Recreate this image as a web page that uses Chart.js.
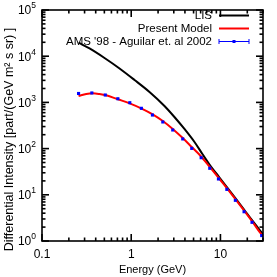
<!DOCTYPE html>
<html>
<head>
<meta charset="utf-8">
<script src="https://cdn.jsdelivr.net/npm/chart.js@4.4.1/dist/chart.umd.min.js"></script>
<style>
  body { margin: 0; background: #fff; }
  #wrap { width: 277px; height: 277px; }
</style>
</head>
<body>
<div id="wrap"><canvas id="myChart"></canvas></div>
<script>
//Values (energy in GeV, intensity in part/(GeV m2 s sr))
const amsEnergy = [0.257, 0.362, 0.512, 0.708, 0.964, 1.30, 1.73, 2.26, 2.92, 3.78, 4.77, 6.08, 7.59, 9.5, 11.8, 14.7, 18.4, 22.6, 29.0];
const amsFlux = [1560, 1600, 1445, 1200, 985, 745, 533, 377, 253, 162, 101, 63.5, 37.5, 22, 13.1, 7.6, 4.3, 2.54, 1.31];

const modelEnergy = [0.257, 0.313, 0.371, 0.441, 0.525, 0.708, 0.96, 1.29, 1.74, 2.26, 2.92, 3.78, 4.77, 6.08, 7.59, 9.5, 11.8, 14.7, 18.4, 22.6, 29, 30];
const modelFlux = [1378, 1520, 1575, 1520, 1425, 1167, 955, 745, 552, 395, 266, 169, 108, 67.5, 40, 23.4, 14.0, 8.1, 4.57, 2.69, 1.38, 1.31];

const lisEnergy = [0.257, 0.341, 0.502, 0.740, 1.089, 1.603, 2.36, 3.05, 3.95, 5.12, 6.28, 7.54, 9.75, 11.8, 14.7, 18.4, 22.6, 30];
const lisFlux = [19600, 14700, 9140, 5420, 3055, 1680, 836, 483, 266, 139, 76.4, 45.3, 23.7, 14.7, 8.5, 4.8, 2.82, 1.4];

const legendLabels = ["LIS", "Present Model", "AMS '98 - Aguilar et. al 2002"];
const xTickValues = [0.1, 1, 10];
const xTickLabels = ["0.1", "1", "10"];
const yTickExps = [0, 1, 2, 3, 4, 5];
const xTitle = "Energy (GeV)";
const yTitle = "Differential Intensity [part/(GeV m\u00b2 s sr) ]";

const toPoints = (xs, ys) => xs.map((x, i) => ({x: x, y: ys[i]}));
const FONT = "'Liberation Sans', Arial, sans-serif";

//Frame, inward log ticks on all four sides, tick labels and titles
const framePlugin = {
  id: "frame",
  afterDraw(chart) {
    const c = chart.ctx;
    const a = chart.chartArea;
    const xs = chart.scales.x;
    const ys = chart.scales.y;
    c.save();
    c.strokeStyle = "#000";
    c.lineWidth = 1.6;
    c.strokeRect(a.left, a.top, a.right - a.left, a.bottom - a.top);

    const seg = (x1, y1, x2, y2) => { c.beginPath(); c.moveTo(x1, y1); c.lineTo(x2, y2); c.stroke(); };
    for (let d = -1; d <= 1; d++) {
      for (let m = 1; m <= 9; m++) {
        const v = m * Math.pow(10, d);
        if (v < xs.min || v > xs.max) continue;
        const px = xs.getPixelForValue(v);
        const len = m === 1 ? 7 : 3.5;
        seg(px, a.bottom, px, a.bottom - len);
        seg(px, a.top, px, a.top + len);
      }
    }
    for (let d = 0; d <= 5; d++) {
      for (let m = 1; m <= 9; m++) {
        const v = m * Math.pow(10, d);
        if (v < ys.min || v > ys.max) continue;
        const py = ys.getPixelForValue(v);
        const len = m === 1 ? 7 : 3.5;
        seg(a.left, py, a.left + len, py);
        seg(a.right, py, a.right - len, py);
      }
    }

    c.fillStyle = "#000";
    //x tick labels
    c.font = "12px " + FONT;
    c.textAlign = "center";
    c.textBaseline = "middle";
    xTickValues.forEach((v, i) => {
      c.fillText(xTickLabels[i], xs.getPixelForValue(v), a.bottom + 14);
    });
    //y tick labels as 10 with superscript exponent
    yTickExps.forEach(e => {
      const py = ys.getPixelForValue(Math.pow(10, e));
      c.font = "8.5px " + FONT;
      c.textAlign = "right";
      const supW = c.measureText(String(e)).width;
      c.fillText(String(e), a.left - 6, py - 4);
      c.font = "12px " + FONT;
      c.fillText("10", a.left - 6 - supW, py + 1);
    });
    //axis titles
    c.font = "11px " + FONT;
    c.textAlign = "center";
    c.fillText(xTitle, (a.left + a.right) / 2, a.bottom + 29);
    c.save();
    c.font = "12.5px " + FONT;
    c.translate(10, (a.top + a.bottom) / 2 + 14);
    c.rotate(-Math.PI / 2);
    c.fillText(yTitle, 0, 0);
    c.restore();
    c.restore();
  }
};

//Legend in the top right corner: text on the left, sample on the right
const keyPlugin = {
  id: "key",
  afterDraw(chart) {
    const c = chart.ctx;
    const a = chart.chartArea;
    const sets = [chart.data.datasets[2], chart.data.datasets[1], chart.data.datasets[0]];
    const textRight = a.right - 51;
    const x1 = a.right - 44;
    const x2 = a.right - 14;
    c.save();
    c.font = "11.5px " + FONT;
    c.textAlign = "right";
    c.textBaseline = "middle";
    sets.forEach((ds, i) => {
      const y = a.top + 5.5 + i * 13;
      c.fillStyle = "#000";
      c.fillText(legendLabels[i], textRight, y);
      c.strokeStyle = ds.borderColor;
      if (i < 2) {
        c.lineWidth = 2;
        c.beginPath(); c.moveTo(x1, y); c.lineTo(x2, y); c.stroke();
      } else {
        c.lineWidth = 1;
        c.beginPath(); c.moveTo(x1, y); c.lineTo(x2, y); c.stroke();
        c.beginPath(); c.moveTo(x1, y - 2.5); c.lineTo(x1, y + 2.5); c.stroke();
        c.beginPath(); c.moveTo(x2, y - 2.5); c.lineTo(x2, y + 2.5); c.stroke();
        c.fillStyle = ds.backgroundColor;
        c.fillRect((x1 + x2) / 2 - 1.5, y - 1.5, 3, 3);
      }
    });
    c.restore();
  }
};

const ctx = document.getElementById("myChart");
new Chart(ctx, {
  type: "line",
  data: {
    datasets: [
      {
        label: legendLabels[2],
        data: toPoints(amsEnergy, amsFlux),
        showLine: false,
        pointStyle: "rect",
        pointRadius: 2.2,
        pointBorderWidth: 0,
        backgroundColor: "#0000ff",
        borderColor: "#0000ff",
        clip: false,
        order: 0
      },
      {
        label: legendLabels[1],
        data: toPoints(modelEnergy, modelFlux),
        borderColor: "#ff0000",
        borderWidth: 2,
        pointRadius: 0,
        cubicInterpolationMode: "monotone",
        order: 1
      },
      {
        label: legendLabels[0],
        data: toPoints(lisEnergy, lisFlux),
        borderColor: "#000000",
        borderWidth: 2,
        pointRadius: 0,
        cubicInterpolationMode: "monotone",
        order: 2
      }
    ]
  },
  options: {
    responsive: true,
    maintainAspectRatio: false,
    animation: false,
    layout: { padding: { left: 42, right: 14, top: 10, bottom: 36 } },
    plugins: { legend: { display: false }, tooltip: { enabled: false } },
    scales: {
      x: { type: "logarithmic", min: 0.1, max: 30, display: false },
      y: { type: "logarithmic", min: 1, max: 100000, display: false }
    }
  },
  plugins: [framePlugin, keyPlugin]
});
</script>
</body>
</html>
